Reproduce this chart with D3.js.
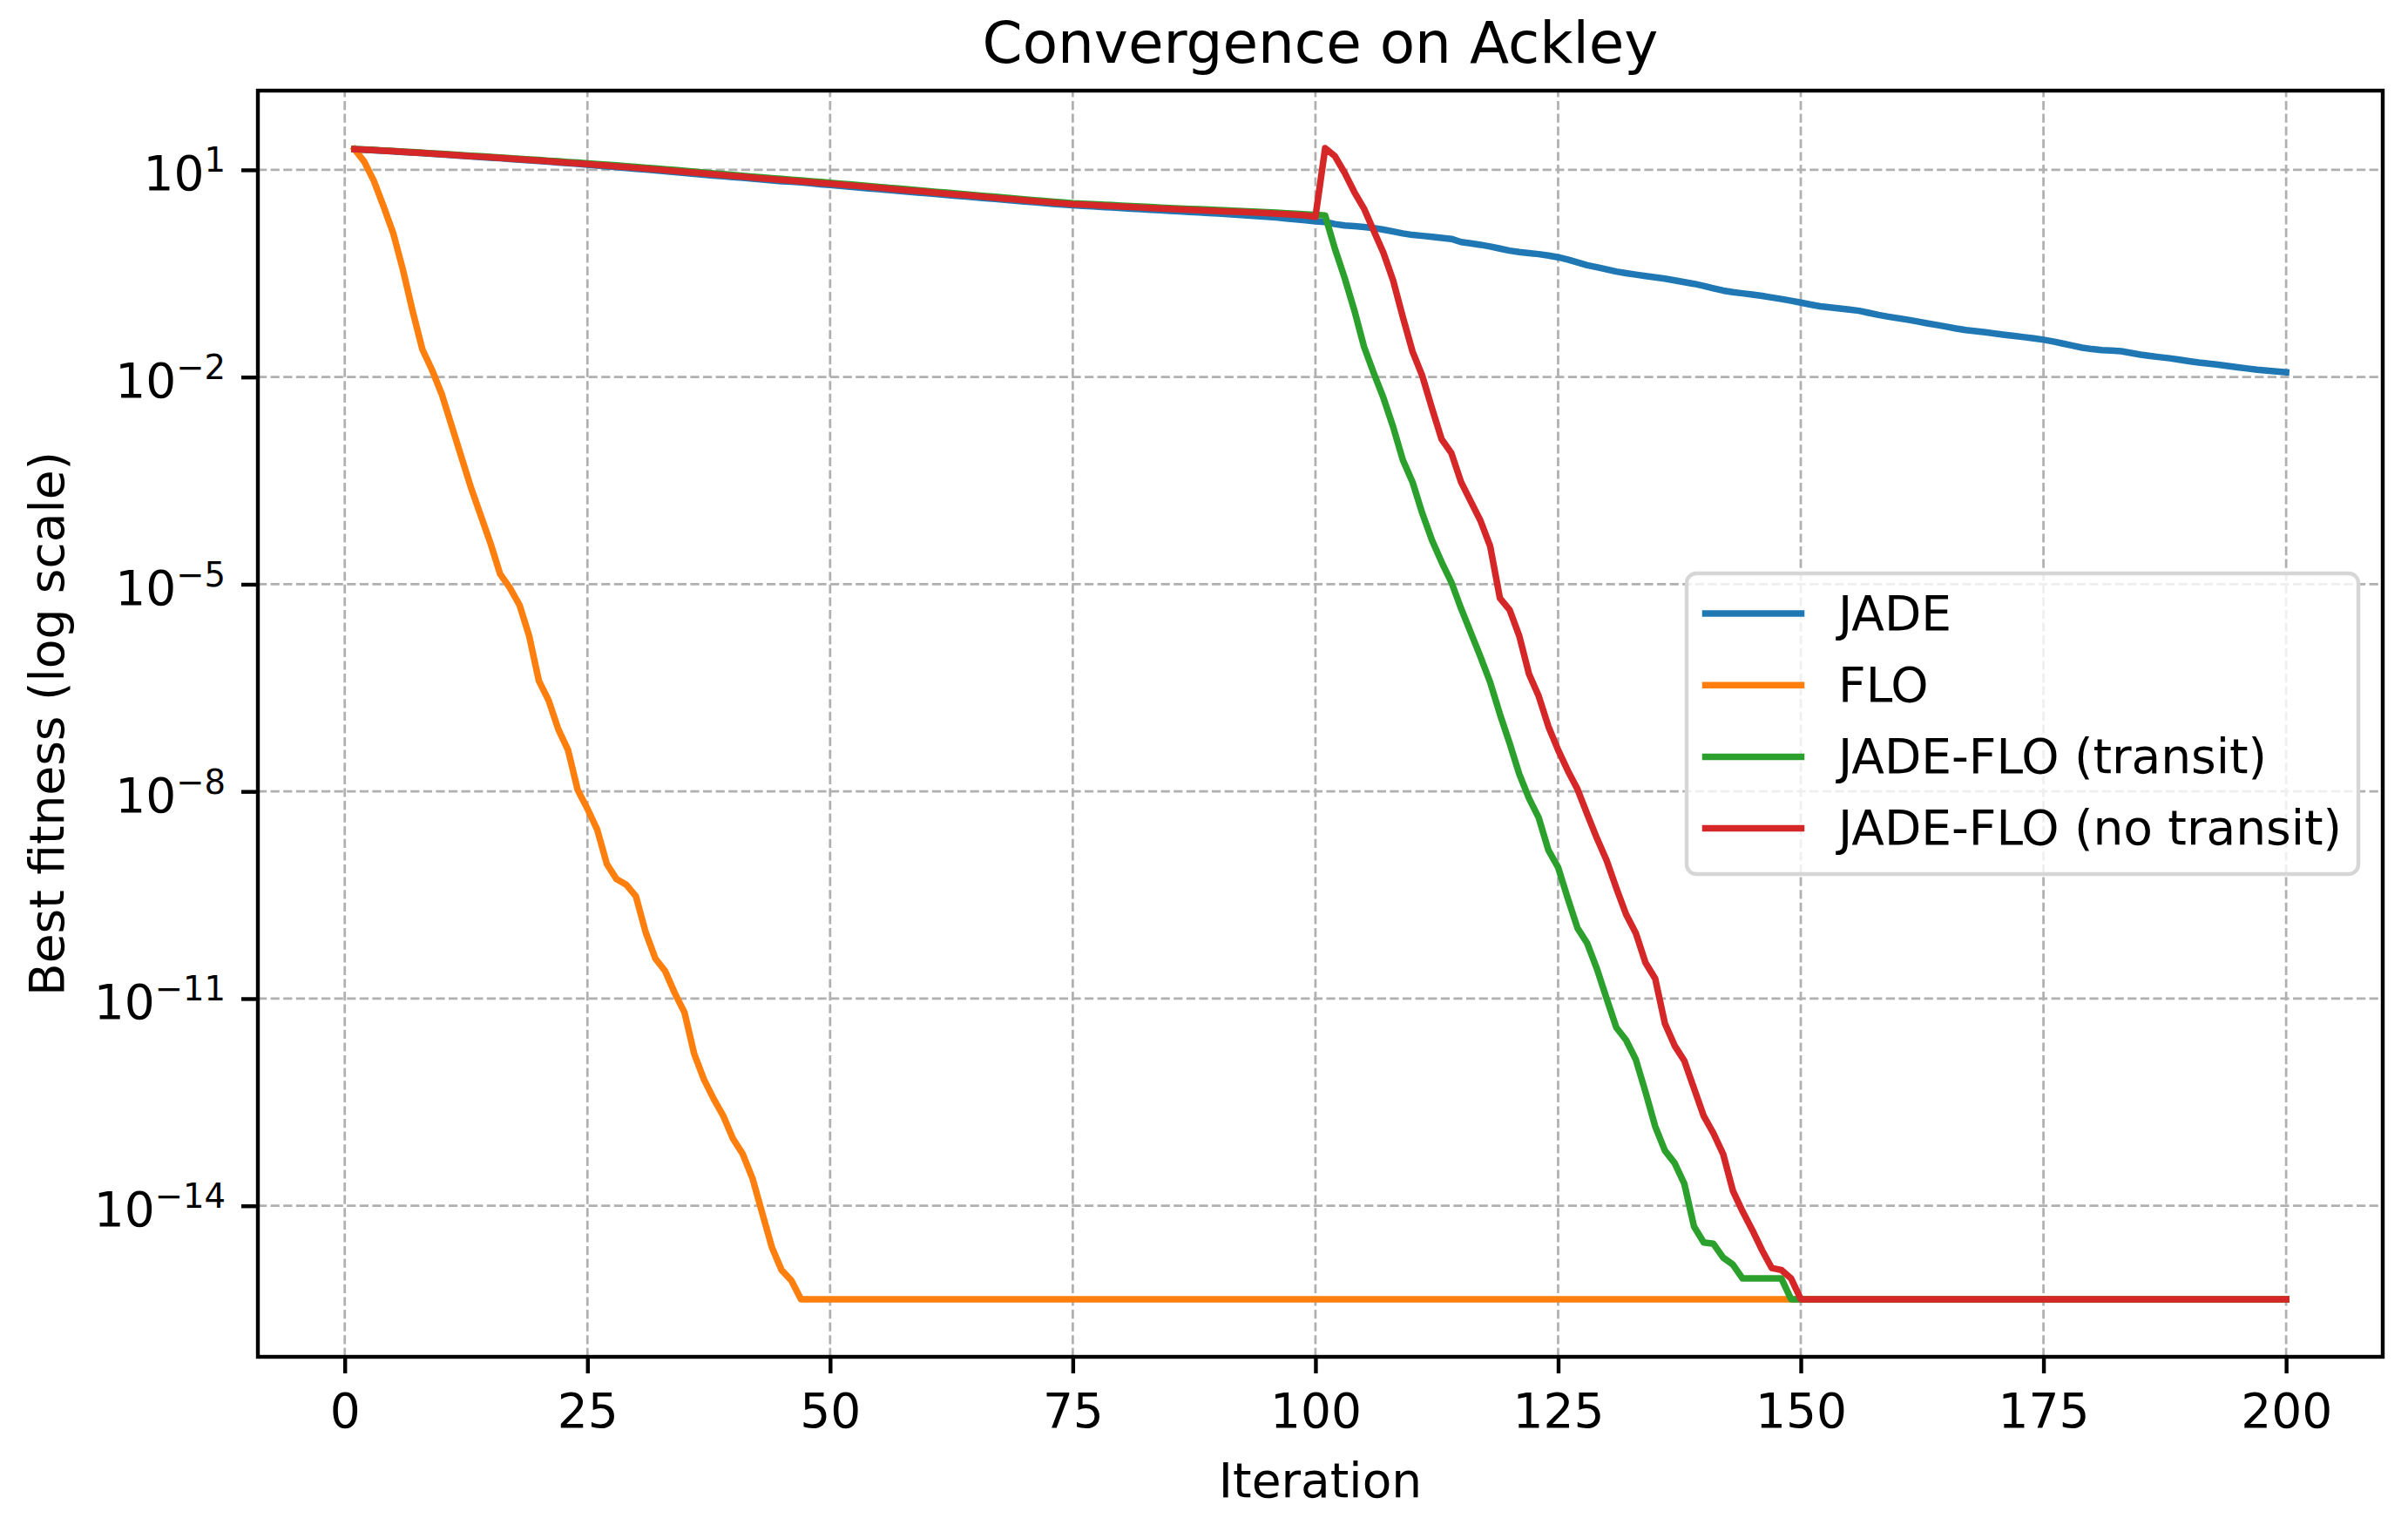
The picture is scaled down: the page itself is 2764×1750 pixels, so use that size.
<!DOCTYPE html>
<html>
<head>
<meta charset="utf-8">
<script src="https://cdn.jsdelivr.net/npm/d3@7"></script>
<style>
  body { margin: 0; background: #fff; }
  svg { display: block; font-family: "DejaVu Sans", sans-serif; }
</style>
</head>
<body>
<svg id="chart" width="2764" height="1750"></svg>
<script>
// best fitness per iteration, stored as log10 exponents
const jadeExp = [
  1.300, 1.292, 1.284, 1.276, 1.268, 1.259, 1.250, 1.242, 1.233, 1.224,
  1.214, 1.205, 1.196, 1.186, 1.177, 1.168, 1.158, 1.148, 1.139, 1.128,
  1.118, 1.107, 1.097, 1.086, 1.074, 1.062, 1.050, 1.039, 1.027, 1.015,
  1.004, 0.992, 0.980, 0.968, 0.955, 0.941, 0.930, 0.918, 0.906, 0.895,
  0.884, 0.872, 0.860, 0.848, 0.836, 0.830, 0.818, 0.805, 0.792, 0.780,
  0.768, 0.757, 0.745, 0.732, 0.720, 0.708, 0.697, 0.685, 0.672, 0.660,
  0.648, 0.637, 0.625, 0.614, 0.602, 0.590, 0.578, 0.566, 0.555, 0.543,
  0.531, 0.520, 0.508, 0.496, 0.487, 0.479, 0.471, 0.463, 0.455, 0.447,
  0.439, 0.431, 0.423, 0.415, 0.407, 0.399, 0.391, 0.383, 0.375, 0.367,
  0.358, 0.349, 0.340, 0.331, 0.322, 0.310, 0.297, 0.284, 0.270, 0.256,
  0.245, 0.215, 0.195, 0.185, 0.172, 0.158, 0.135, 0.108, 0.080, 0.058,
  0.045, 0.032, 0.016, 0.000, -0.045, -0.065, -0.085, -0.110, -0.140, -0.170,
  -0.190, -0.205, -0.220, -0.240, -0.265, -0.300, -0.340, -0.380, -0.410, -0.442,
  -0.472, -0.496, -0.517, -0.537, -0.556, -0.575, -0.600, -0.625, -0.650, -0.680,
  -0.715, -0.748, -0.770, -0.788, -0.805, -0.825, -0.848, -0.870, -0.895, -0.922,
  -0.950, -0.975, -0.992, -1.008, -1.024, -1.040, -1.070, -1.100, -1.125, -1.148,
  -1.170, -1.195, -1.222, -1.245, -1.270, -1.297, -1.320, -1.335, -1.352, -1.370,
  -1.388, -1.405, -1.422, -1.440, -1.460, -1.485, -1.515, -1.545, -1.575, -1.595,
  -1.610, -1.615, -1.625, -1.650, -1.675, -1.695, -1.712, -1.728, -1.748, -1.770,
  -1.790, -1.805, -1.822, -1.840, -1.858, -1.876, -1.893, -1.905, -1.918, -1.930
];

const floExp = [
  1.300, 1.120, 0.840, 0.470, 0.080, -0.450, -1.050, -1.600, -1.900, -2.250,
  -2.700, -3.150, -3.600, -4.000, -4.400, -4.850, -5.050, -5.300, -5.750, -6.400,
  -6.680, -7.100, -7.400, -7.980, -8.250, -8.550, -9.050, -9.270, -9.350, -9.520,
  -10.040, -10.420, -10.600, -10.920, -11.200, -11.800, -12.170, -12.450, -12.700, -13.030,
  -13.250, -13.600, -14.100, -14.600, -14.930, -15.080, -15.353, -15.353, -15.353, -15.353,
  -15.353, -15.353, -15.353, -15.353, -15.353, -15.353, -15.353, -15.353, -15.353, -15.353,
  -15.353, -15.353, -15.353, -15.353, -15.353, -15.353, -15.353, -15.353, -15.353, -15.353,
  -15.353, -15.353, -15.353, -15.353, -15.353, -15.353, -15.353, -15.353, -15.353, -15.353,
  -15.353, -15.353, -15.353, -15.353, -15.353, -15.353, -15.353, -15.353, -15.353, -15.353,
  -15.353, -15.353, -15.353, -15.353, -15.353, -15.353, -15.353, -15.353, -15.353, -15.353,
  -15.353, -15.353, -15.353, -15.353, -15.353, -15.353, -15.353, -15.353, -15.353, -15.353,
  -15.353, -15.353, -15.353, -15.353, -15.353, -15.353, -15.353, -15.353, -15.353, -15.353,
  -15.353, -15.353, -15.353, -15.353, -15.353, -15.353, -15.353, -15.353, -15.353, -15.353,
  -15.353, -15.353, -15.353, -15.353, -15.353, -15.353, -15.353, -15.353, -15.353, -15.353,
  -15.353, -15.353, -15.353, -15.353, -15.353, -15.353, -15.353, -15.353, -15.353, -15.353,
  -15.353, -15.353, -15.353, -15.353, -15.353, -15.353, -15.353, -15.353, -15.353, -15.353,
  -15.353, -15.353, -15.353, -15.353, -15.353, -15.353, -15.353, -15.353, -15.353, -15.353,
  -15.353, -15.353, -15.353, -15.353, -15.353, -15.353, -15.353, -15.353, -15.353, -15.353,
  -15.353, -15.353, -15.353, -15.353, -15.353, -15.353, -15.353, -15.353, -15.353, -15.353,
  -15.353, -15.353, -15.353, -15.353, -15.353, -15.353, -15.353, -15.353, -15.353, -15.353
];

const transitExp = [
  1.300, 1.295, 1.288, 1.281, 1.273, 1.265, 1.257, 1.249, 1.240, 1.232,
  1.223, 1.214, 1.205, 1.197, 1.188, 1.179, 1.170, 1.161, 1.152, 1.143,
  1.133, 1.124, 1.114, 1.105, 1.095, 1.085, 1.075, 1.064, 1.054, 1.043,
  1.032, 1.021, 1.010, 0.998, 0.986, 0.974, 0.962, 0.950, 0.938, 0.926,
  0.914, 0.903, 0.891, 0.880, 0.869, 0.858, 0.847, 0.836, 0.825, 0.814,
  0.802, 0.790, 0.778, 0.766, 0.754, 0.742, 0.730, 0.718, 0.706, 0.694,
  0.682, 0.670, 0.658, 0.646, 0.634, 0.622, 0.610, 0.598, 0.586, 0.574,
  0.562, 0.551, 0.540, 0.529, 0.518, 0.511, 0.504, 0.497, 0.490, 0.483,
  0.476, 0.469, 0.462, 0.455, 0.448, 0.442, 0.436, 0.430, 0.424, 0.418,
  0.412, 0.406, 0.400, 0.394, 0.388, 0.380, 0.372, 0.364, 0.356, 0.348,
  0.340, -0.140, -0.560, -1.030, -1.560, -1.940, -2.300, -2.720, -3.200, -3.520,
  -3.970, -4.360, -4.680, -4.970, -5.350, -5.700, -6.050, -6.420, -6.880, -7.300,
  -7.750, -8.100, -8.380, -8.850, -9.100, -9.550, -9.980, -10.200, -10.570, -11.000,
  -11.420, -11.600, -11.880, -12.350, -12.850, -13.200, -13.380, -13.680, -14.300, -14.530,
  -14.550, -14.750, -14.850, -15.052, -15.052, -15.052, -15.052, -15.052, -15.353, -15.353,
  -15.353, -15.353, -15.353, -15.353, -15.353, -15.353, -15.353, -15.353, -15.353, -15.353,
  -15.353, -15.353, -15.353, -15.353, -15.353, -15.353, -15.353, -15.353, -15.353, -15.353,
  -15.353, -15.353, -15.353, -15.353, -15.353, -15.353, -15.353, -15.353, -15.353, -15.353,
  -15.353, -15.353, -15.353, -15.353, -15.353, -15.353, -15.353, -15.353, -15.353, -15.353,
  -15.353, -15.353, -15.353, -15.353, -15.353, -15.353, -15.353, -15.353, -15.353, -15.353
];

const noTransitExp = [
  1.300, 1.293, 1.285, 1.277, 1.269, 1.261, 1.252, 1.244, 1.235, 1.226,
  1.217, 1.208, 1.199, 1.190, 1.181, 1.172, 1.162, 1.153, 1.144, 1.134,
  1.124, 1.114, 1.104, 1.094, 1.084, 1.073, 1.062, 1.051, 1.040, 1.029,
  1.018, 1.007, 0.996, 0.984, 0.972, 0.960, 0.948, 0.936, 0.924, 0.912,
  0.900, 0.889, 0.877, 0.866, 0.855, 0.844, 0.833, 0.822, 0.811, 0.800,
  0.788, 0.776, 0.764, 0.752, 0.740, 0.728, 0.716, 0.704, 0.692, 0.680,
  0.668, 0.656, 0.644, 0.632, 0.620, 0.608, 0.596, 0.584, 0.572, 0.560,
  0.548, 0.537, 0.526, 0.515, 0.504, 0.497, 0.490, 0.483, 0.476, 0.469,
  0.462, 0.455, 0.448, 0.441, 0.434, 0.428, 0.422, 0.416, 0.410, 0.404,
  0.398, 0.392, 0.386, 0.380, 0.374, 0.366, 0.358, 0.350, 0.340, 0.320,
  1.314, 1.200, 0.960, 0.680, 0.440, 0.120, -0.200, -0.600, -1.130, -1.630,
  -1.980, -2.450, -2.900, -3.100, -3.520, -3.800, -4.080, -4.450, -5.200, -5.370,
  -5.750, -6.300, -6.620, -7.060, -7.400, -7.700, -7.970, -8.330, -8.680, -9.000,
  -9.400, -9.780, -10.050, -10.480, -10.710, -11.360, -11.680, -11.900, -12.300, -12.700,
  -12.950, -13.250, -13.780, -14.080, -14.350, -14.640, -14.900, -14.930, -15.052, -15.353,
  -15.353, -15.353, -15.353, -15.353, -15.353, -15.353, -15.353, -15.353, -15.353, -15.353,
  -15.353, -15.353, -15.353, -15.353, -15.353, -15.353, -15.353, -15.353, -15.353, -15.353,
  -15.353, -15.353, -15.353, -15.353, -15.353, -15.353, -15.353, -15.353, -15.353, -15.353,
  -15.353, -15.353, -15.353, -15.353, -15.353, -15.353, -15.353, -15.353, -15.353, -15.353,
  -15.353, -15.353, -15.353, -15.353, -15.353, -15.353, -15.353, -15.353, -15.353, -15.353
];

const seriesNames = ["JADE", "FLO", "JADE-FLO (transit)", "JADE-FLO (no transit)"];
const seriesColors = ["#1f77b4", "#ff7f0e", "#2ca02c", "#d62728"];
const xTicks = [0, 25, 50, 75, 100, 125, 150, 175, 200];
const yTickExps = [1, -2, -5, -8, -11, -14];

const iterations = d3.range(1, jadeExp.length + 1);
const series = [jadeExp, floExp, transitExp, noTransitExp].map((exps, i) => ({
  name: seriesNames[i],
  color: seriesColors[i],
  values: exps.map(e => Math.pow(10, e))
}));

const plot = { left: 296, right: 2735, top: 104, bottom: 1557 };
const fontSize = 55;
const lineWidth = 7.5;

const svg = d3.select("#chart");

// matplotlib-style 5% auto margins
const [xMin, xMax] = d3.extent(iterations);
const xPad = (xMax - xMin) * 0.05;
const x = d3
  .scaleLinear()
  .domain([xMin - xPad, xMax + xPad])
  .range([plot.left, plot.right]);

const allExps = [].concat(jadeExp, floExp, transitExp, noTransitExp);
const [eMin, eMax] = d3.extent(allExps);
const ePad = (eMax - eMin) * 0.05;
const y = d3
  .scaleLog()
  .domain([Math.pow(10, eMin - ePad), Math.pow(10, eMax + ePad)])
  .range([plot.bottom, plot.top]);

const yTicks = yTickExps.map(e => Math.pow(10, e));

svg
  .append("defs")
  .append("clipPath")
  .attr("id", "plot-clip")
  .append("rect")
  .attr("x", plot.left)
  .attr("y", plot.top)
  .attr("width", plot.right - plot.left)
  .attr("height", plot.bottom - plot.top);

// grid
const grid = svg.append("g").attr("class", "grid");
grid
  .selectAll("line.vgrid")
  .data(xTicks)
  .enter()
  .append("line")
  .attr("class", "vgrid")
  .attr("x1", d => x(d))
  .attr("x2", d => x(d))
  .attr("y1", plot.bottom)
  .attr("y2", plot.top)
  .attr("stroke", "#b0b0b0")
  .attr("stroke-width", 2.75)
  .attr("stroke-dasharray", "10.2 4.4");

grid
  .selectAll("line.hgrid")
  .data(yTicks)
  .enter()
  .append("line")
  .attr("class", "hgrid")
  .attr("x1", plot.left)
  .attr("x2", plot.right)
  .attr("y1", d => y(d))
  .attr("y2", d => y(d))
  .attr("stroke", "#b0b0b0")
  .attr("stroke-width", 2.75)
  .attr("stroke-dasharray", "10.2 4.4");

// lines
const line = d3
  .line()
  .x((d, i) => x(iterations[i]))
  .y(d => y(d));

svg
  .append("g")
  .attr("clip-path", "url(#plot-clip)")
  .selectAll("path")
  .data(series)
  .enter()
  .append("path")
  .attr("d", d => line(d.values))
  .attr("fill", "none")
  .attr("stroke", d => d.color)
  .attr("stroke-width", lineWidth)
  .attr("stroke-linejoin", "round")
  .attr("stroke-linecap", "square");

// axes
const xAxis = d3
  .axisBottom(x)
  .tickValues(xTicks)
  .tickSize(19)
  .tickSizeOuter(0)
  .tickPadding(19);

const gx = svg
  .append("g")
  .attr("transform", `translate(0,${plot.bottom})`)
  .call(xAxis);
gx.select(".domain").remove();
gx.selectAll(".tick line").attr("stroke", "#000").attr("stroke-width", 4.4);
gx.selectAll(".tick text")
  .attr("y", 81)
  .attr("dy", null)
  .attr("fill", "#000")
  .attr("font-size", fontSize)
  .attr("font-family", "DejaVu Sans");

const yAxis = d3
  .axisLeft(y)
  .tickValues(yTicks)
  .tickSize(19)
  .tickSizeOuter(0)
  .tickPadding(18)
  .tickFormat("");

const gy = svg
  .append("g")
  .attr("transform", `translate(${plot.left},0)`)
  .call(yAxis);
gy.select(".domain").remove();
gy.selectAll(".tick line").attr("stroke", "#000").attr("stroke-width", 4.4);
gy.selectAll(".tick text")
  .attr("dy", 23)
  .attr("fill", "#000")
  .attr("font-size", fontSize)
  .attr("font-family", "DejaVu Sans")
  .each(function(d, i) {
    const t = d3.select(this);
    t.append("tspan").text("10");
    const e = yTickExps[i];
    t.append("tspan")
      .attr("font-size", fontSize * 0.7)
      .attr("dy", -21)
      .text(e < 0 ? "\u2212" + Math.abs(e) : String(e));
  });

// spines
svg
  .append("rect")
  .attr("x", plot.left)
  .attr("y", plot.top)
  .attr("width", plot.right - plot.left)
  .attr("height", plot.bottom - plot.top)
  .attr("fill", "none")
  .attr("stroke", "#000")
  .attr("stroke-width", 4.4);

// labels
const midX = (plot.left + plot.right) / 2;
const midY = (plot.top + plot.bottom) / 2;

svg
  .append("text")
  .attr("x", midX)
  .attr("y", 72)
  .attr("text-anchor", "middle")
  .attr("font-size", 66)
  .text("Convergence on Ackley");

svg
  .append("text")
  .attr("x", midX)
  .attr("y", 1718)
  .attr("text-anchor", "middle")
  .attr("font-size", fontSize)
  .text("Iteration");

svg
  .append("text")
  .attr("transform", `translate(73,${midY}) rotate(-90)`)
  .attr("text-anchor", "middle")
  .attr("font-size", fontSize)
  .text("Best fitness (log scale)");

// legend
const legend = { left: 1936, top: 658, width: 771, height: 345, rowGap: 82.2 };
const lg = svg.append("g").attr("class", "legend");
lg.append("rect")
  .attr("x", legend.left)
  .attr("y", legend.top)
  .attr("width", legend.width)
  .attr("height", legend.height)
  .attr("rx", 11)
  .attr("fill", "#fff")
  .attr("fill-opacity", 0.8)
  .attr("stroke", "#d6d6d6")
  .attr("stroke-width", 4.4);

const rows = lg
  .selectAll("g.row")
  .data(series)
  .enter()
  .append("g")
  .attr("class", "row")
  .attr("transform", (d, i) => `translate(0,${legend.top + 46 + i * legend.rowGap})`);

rows
  .append("line")
  .attr("x1", 1957.5)
  .attr("x2", 2067.5)
  .attr("stroke", d => d.color)
  .attr("stroke-width", lineWidth)
  .attr("stroke-linecap", "square");

rows
  .append("text")
  .attr("x", 2110)
  .attr("y", 18.5)
  .attr("font-size", fontSize)
  .text(d => d.name);
</script>
</body>
</html>
